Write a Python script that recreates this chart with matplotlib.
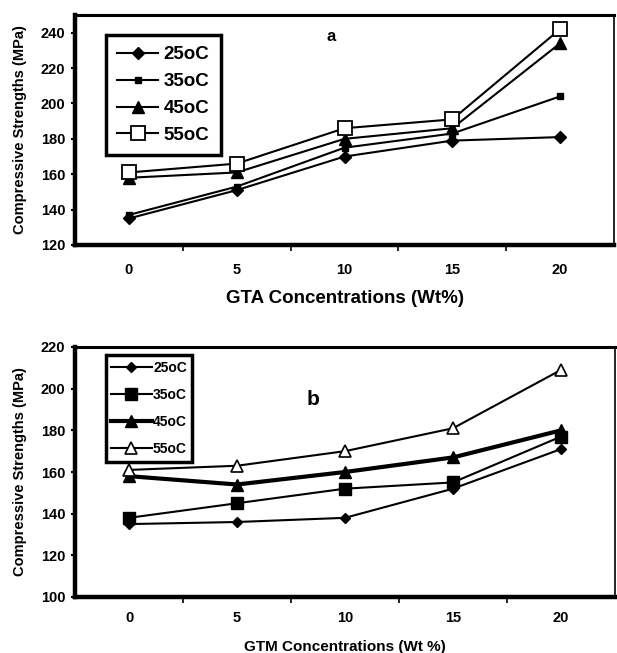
import matplotlib
matplotlib.use("Agg")
import matplotlib.pyplot as plt

# GTA / GTM concentrations (wt%)
conc = [0, 5, 10, 15, 20]
temps = ["25oC", "35oC", "45oC", "55oC"]

# (a) GTA, compressive strength (MPa)
gta_25 = [135, 151, 170, 179, 181]
gta_35 = [137, 153, 175, 183, 204]
gta_45 = [158, 161, 180, 186, 234]
gta_55 = [161, 166, 186, 191, 242]

# (b) GTM, compressive strength (MPa)
gtm_25 = [135, 136, 138, 152, 171]
gtm_35 = [138, 145, 152, 155, 177]
gtm_45 = [158, 154, 160, 167, 180]
gtm_55 = [161, 163, 170, 181, 209]

plt.rcParams['font.family'] = ['Liberation Sans', 'DejaVu Sans']
plt.rcParams['font.weight'] = 'bold'

fig = plt.figure(figsize=(6.17, 6.53), dpi=100)
ax1 = fig.add_axes([75/617, 1-245/653, 539/617, 230/653])
ax2 = fig.add_axes([75/617, 1-597/653, 540/617, 250/653])


def style_axes(ax, yticks, xpad):
    ax.set_xlim(-2.5, 22.5)
    ax.set_yticks(yticks)
    ax.set_xticks(conc)
    ax.set_xticks([2.5, 7.5, 12.5, 17.5], minor=True)
    ax.tick_params(axis='x', which='major', length=0, pad=xpad, labelsize=10.5)
    ax.tick_params(axis='x', which='minor', length=4, width=1.2, direction='out')
    ax.tick_params(axis='y', length=3, width=1.5, pad=4, labelsize=10.5)
    ax.spines['left'].set_linewidth(3.2)
    ax.spines['bottom'].set_linewidth(3.2)
    ax.spines['top'].set_linewidth(2.2)
    ax.spines['right'].set_linewidth(1.2)
    for lab in ax.get_xticklabels() + ax.get_yticklabels():
        lab.set_fontweight('bold')


# ---- (a) GTA ----
ax1.plot(conc, gta_25, '-', color='black', lw=1.5, marker='D', ms=6.5, mfc='black', mec='black', label=temps[0])
ax1.plot(conc, gta_35, '-', color='black', lw=1.5, marker='s', ms=5, mfc='black', mec='black', label=temps[1])
ax1.plot(conc, gta_45, '-', color='black', lw=1.5, marker='^', ms=8, mfc='black', mec='black', label=temps[2])
ax1.plot(conc, gta_55, '-', color='black', lw=1.5, marker='s', ms=10, mfc='white', mec='black', mew=1.3, label=temps[3])
style_axes(ax1, [120, 140, 160, 180, 200, 220, 240], 13)
ax1.set_ylim(120, 250)
ax1.set_xlabel("GTA Concentrations (Wt%)", fontsize=13.5, fontweight='bold', labelpad=9)
ax1.set_ylabel("Compressive Strengths (MPa)", fontsize=10.5, fontweight='bold', labelpad=10)
ax1.text(0.475, 0.905, "a", transform=ax1.transAxes, fontsize=12, fontweight='bold', ha='center', va='center')
leg1 = ax1.legend(loc='upper left', bbox_to_anchor=(0.057, 0.913), numpoints=1,
                  handlelength=2.2, handletextpad=0.3, labelspacing=0.52, borderpad=0.6,
                  borderaxespad=0, fancybox=False, edgecolor='black', framealpha=1,
                  prop={'weight': 'bold', 'size': 13.5})
leg1.get_frame().set_linewidth(2.5)

# ---- (b) GTM ----
ax2.plot(conc, gtm_25, '-', color='black', lw=1.5, marker='D', ms=5.5, mfc='black', mec='black', label=temps[0])
ax2.plot(conc, gtm_35, '-', color='black', lw=1.5, marker='s', ms=8.5, mfc='black', mec='black', label=temps[1])
ax2.plot(conc, gtm_45, '-', color='black', lw=3, marker='^', ms=9, mfc='black', mec='black', label=temps[2])
ax2.plot(conc, gtm_55, '-', color='black', lw=1.5, marker='^', ms=9, mfc='white', mec='black', mew=1.2, label=temps[3])
style_axes(ax2, [100, 120, 140, 160, 180, 200, 220], 10)
ax2.set_ylim(100, 220)
ax2.set_xlabel("GTM Concentrations (Wt %)", fontsize=11, fontweight='bold', labelpad=11)
ax2.set_ylabel("Compressive Strengths (MPa)", fontsize=10.5, fontweight='bold', labelpad=10)
ax2.text(0.44, 0.79, "b", transform=ax2.transAxes, fontsize=15, fontweight='bold', ha='center', va='center')
leg2 = ax2.legend(loc='upper left', bbox_to_anchor=(0.057, 0.968), numpoints=1,
                  handlelength=2.9, handletextpad=0.1, labelspacing=0.95, borderpad=0.4,
                  borderaxespad=0, fancybox=False, edgecolor='black', framealpha=1,
                  prop={'weight': 'bold', 'size': 10})
leg2.get_frame().set_linewidth(2.5)

fig.savefig("out.png", dpi=100)
